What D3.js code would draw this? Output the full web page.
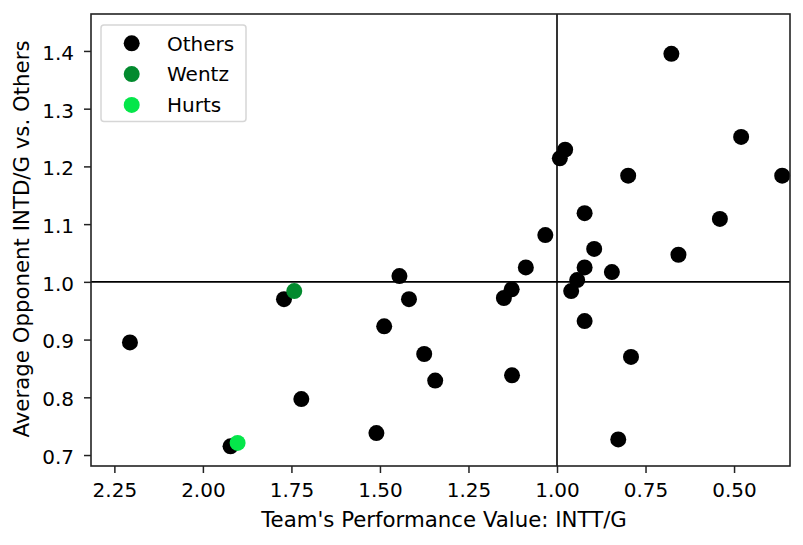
<!DOCTYPE html>
<html><head><meta charset="utf-8">
<script src="https://cdn.jsdelivr.net/npm/d3@7"></script>
<style>body{margin:0;background:#fff}svg{display:block}text{font-family:"DejaVu Sans",sans-serif;fill:#000}</style>
</head><body><svg id="c" width="803" height="545"></svg>
<script>
const othersX = [2.206,1.771,1.722,1.922,1.445,1.418,1.488,1.375,1.344,1.510,1.127,1.150,1.128,1.088,1.033,0.922,0.960,0.943,0.922,0.922,0.895,0.845,0.791,0.827,0.657,0.540,0.677,0.480,0.799,0.364,0.977,0.992];
const othersY = [0.895,0.970,0.797,0.715,1.010,0.970,0.923,0.875,0.829,0.738,0.838,0.972,0.987,1.025,1.081,1.119,0.984,1.003,1.025,0.932,1.057,1.017,0.870,0.727,1.047,1.109,1.395,1.251,1.184,1.184,1.229,1.214];
const wentzX = [1.742], wentzY = [0.984];
const hurtsX = [1.902], hurtsY = [0.721];
const xTicks = [2.25,2.00,1.75,1.50,1.25,1.00,0.75,0.50];
const yTicks = [0.7,0.8,0.9,1.0,1.1,1.2,1.3,1.4];
const series = [
  {name:"Others", color:"#000000", xs:othersX, ys:othersY},
  {name:"Wentz", color:"#028a2e", xs:wentzX, ys:wentzY},
  {name:"Hurts", color:"#05e64a", xs:hurtsX, ys:hurtsY}
];
const FS = 20, LFS = 21.3;
const L=91,R=790,T=14,B=466;
const x = d3.scaleLinear().domain([2.316,0.342]).range([L,R]);
const y = d3.scaleLinear().domain([0.681,1.464]).range([B,T]);
const svg = d3.select("#c");
const g = svg.append("g");
// ref lines
g.append("line").attr("x1",x(1)).attr("x2",x(1)).attr("y1",T).attr("y2",B).attr("stroke","#000").attr("stroke-width",1.6);
g.append("line").attr("x1",L).attr("x2",R).attr("y1",y(1)).attr("y2",y(1)).attr("stroke","#000").attr("stroke-width",1.6);
// points
series.forEach(s=>{
  g.append("g").selectAll("circle").data(s.xs.map((v,i)=>[v,s.ys[i]])).join("circle")
   .attr("cx",d=>x(d[0])).attr("cy",d=>y(d[1])).attr("r",8).attr("fill",s.color);
});
// axes
const xa = svg.append("g").attr("transform",`translate(0,${B})`)
  .call(d3.axisBottom(x).tickValues(xTicks).tickFormat(d3.format(".2f")).tickSize(7).tickPadding(10));
const ya = svg.append("g").attr("transform",`translate(${L},0)`)
  .call(d3.axisLeft(y).tickValues(yTicks).tickFormat(d3.format(".1f")).tickSize(7).tickPadding(10));
[xa,ya].forEach(a=>{a.attr("font-size",FS).attr("font-family","DejaVu Sans");a.select(".domain").remove();a.selectAll("line").attr("stroke","#222").attr("stroke-width",1.5);a.selectAll("text").attr("font-size",FS).attr("fill","#000");});
ya.selectAll("text").attr("dy","0.42em");
// frame
svg.append("rect").attr("x",L).attr("y",T).attr("width",R-L).attr("height",B-T).attr("fill","none").attr("stroke","#222").attr("stroke-width",1.6);
// labels
svg.append("text").attr("x",444).attr("y",527).attr("text-anchor","middle").attr("font-size",LFS).text("Team's Performance Value: INTT/G");
svg.append("text").attr("transform",`translate(29,239) rotate(-90)`).attr("text-anchor","middle").attr("font-size",LFS).text("Average Opponent INTD/G vs. Others");
// legend
const lg = svg.append("g");
lg.append("rect").attr("x",101).attr("y",25).attr("width",145).attr("height",96.5).attr("rx",3).attr("fill","#fff").attr("fill-opacity",0.8).attr("stroke","#d6d6d6").attr("stroke-width",1.5);
series.forEach((s,i)=>{
  const cy = 43.3 + i*30.8;
  lg.append("circle").attr("cx",131.7).attr("cy",cy).attr("r",8).attr("fill",s.color);
  lg.append("text").attr("x",167).attr("y",cy+7.3).attr("font-size",FS).text(s.name);
});
</script></body></html>
